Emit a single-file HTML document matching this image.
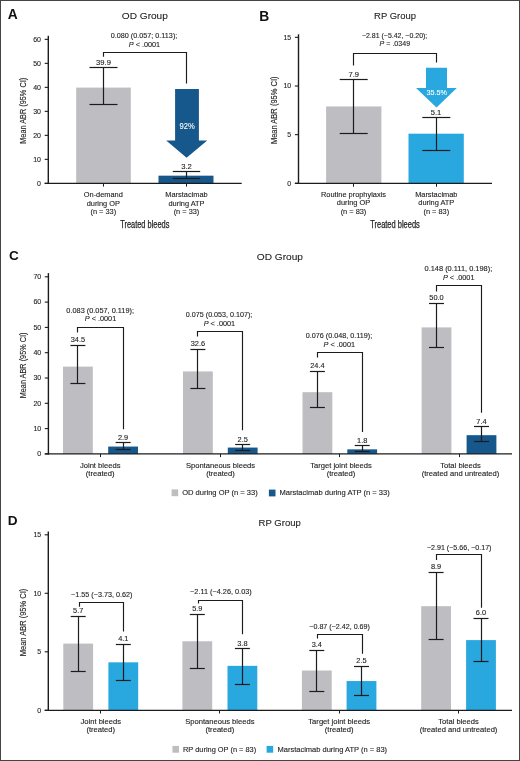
<!DOCTYPE html>
<html><head><meta charset="utf-8"><style>
html,body{margin:0;padding:0;background:#fff;}
body{width:520px;height:761px;overflow:hidden;}
svg{display:block;will-change:transform;font-family:"Liberation Sans", sans-serif;}
</style></head><body>
<svg width="520" height="761" viewBox="0 0 520 761">
<rect x="0" y="0" width="520" height="761" fill="#fff"/>
<text x="7.80" y="18.90" font-size="13.8" text-anchor="start" fill="#111" font-weight="bold" >A</text>
<text x="144.85" y="19.10" font-size="9.8" text-anchor="middle" fill="#1e1e1e" stroke="#1e1e1e" stroke-width="0.1" font-weight="normal" textLength="46" lengthAdjust="spacingAndGlyphs" >OD Group</text>
<rect x="76.20" y="87.59" width="54.60" height="95.76" fill="#bebec2"/>
<rect x="158.50" y="175.67" width="55.00" height="7.68" fill="#16578c"/>
<line x1="48.30" y1="35.80" x2="48.30" y2="184.05" stroke="#1c1c1c" stroke-width="1.4"/>
<line x1="44.70" y1="183.35" x2="241.70" y2="183.35" stroke="#1c1c1c" stroke-width="1.3"/>
<line x1="44.70" y1="183.35" x2="48.30" y2="183.35" stroke="#1c1c1c" stroke-width="1.1"/>
<text x="41.00" y="185.55" font-size="7.6" text-anchor="end" fill="#1e1e1e" stroke="#1e1e1e" stroke-width="0.12" font-weight="normal" textLength="3.9" lengthAdjust="spacingAndGlyphs" >0</text>
<line x1="44.70" y1="159.35" x2="48.30" y2="159.35" stroke="#1c1c1c" stroke-width="1.1"/>
<text x="41.00" y="161.55" font-size="7.6" text-anchor="end" fill="#1e1e1e" stroke="#1e1e1e" stroke-width="0.12" font-weight="normal" textLength="7.8" lengthAdjust="spacingAndGlyphs" >10</text>
<line x1="44.70" y1="135.35" x2="48.30" y2="135.35" stroke="#1c1c1c" stroke-width="1.1"/>
<text x="41.00" y="137.55" font-size="7.6" text-anchor="end" fill="#1e1e1e" stroke="#1e1e1e" stroke-width="0.12" font-weight="normal" textLength="7.8" lengthAdjust="spacingAndGlyphs" >20</text>
<line x1="44.70" y1="111.35" x2="48.30" y2="111.35" stroke="#1c1c1c" stroke-width="1.1"/>
<text x="41.00" y="113.55" font-size="7.6" text-anchor="end" fill="#1e1e1e" stroke="#1e1e1e" stroke-width="0.12" font-weight="normal" textLength="7.8" lengthAdjust="spacingAndGlyphs" >30</text>
<line x1="44.70" y1="87.35" x2="48.30" y2="87.35" stroke="#1c1c1c" stroke-width="1.1"/>
<text x="41.00" y="89.55" font-size="7.6" text-anchor="end" fill="#1e1e1e" stroke="#1e1e1e" stroke-width="0.12" font-weight="normal" textLength="7.8" lengthAdjust="spacingAndGlyphs" >40</text>
<line x1="44.70" y1="63.35" x2="48.30" y2="63.35" stroke="#1c1c1c" stroke-width="1.1"/>
<text x="41.00" y="65.55" font-size="7.6" text-anchor="end" fill="#1e1e1e" stroke="#1e1e1e" stroke-width="0.12" font-weight="normal" textLength="7.8" lengthAdjust="spacingAndGlyphs" >50</text>
<line x1="44.70" y1="39.35" x2="48.30" y2="39.35" stroke="#1c1c1c" stroke-width="1.1"/>
<text x="41.00" y="41.55" font-size="7.6" text-anchor="end" fill="#1e1e1e" stroke="#1e1e1e" stroke-width="0.12" font-weight="normal" textLength="7.8" lengthAdjust="spacingAndGlyphs" >60</text>
<text x="0.00" y="0.00" font-size="8.8" text-anchor="middle" fill="#1e1e1e" stroke="#1e1e1e" stroke-width="0.12" font-weight="normal" textLength="66" lengthAdjust="spacingAndGlyphs" transform="translate(26.40,110.80) rotate(-90)">Mean ABR (95% CI)</text>
<line x1="103.50" y1="67.50" x2="103.50" y2="104.50" stroke="#1c1c1c" stroke-width="1.2"/>
<line x1="89.50" y1="67.50" x2="117.50" y2="67.50" stroke="#1c1c1c" stroke-width="1.2"/>
<line x1="89.50" y1="104.50" x2="117.50" y2="104.50" stroke="#1c1c1c" stroke-width="1.2"/>
<line x1="186.50" y1="171.50" x2="186.50" y2="178.50" stroke="#1c1c1c" stroke-width="1.2"/>
<line x1="172.80" y1="171.50" x2="200.20" y2="171.50" stroke="#1c1c1c" stroke-width="1.2"/>
<line x1="172.80" y1="178.50" x2="200.20" y2="178.50" stroke="#1c1c1c" stroke-width="1.2"/>
<line x1="103.50" y1="183.35" x2="103.50" y2="186.60" stroke="#1c1c1c" stroke-width="1.0"/>
<line x1="186.50" y1="183.35" x2="186.50" y2="186.60" stroke="#1c1c1c" stroke-width="1.0"/>
<polyline points="103.50,56.80 103.50,52.50 186.50,52.50 186.50,83.60" fill="none" stroke="#1c1c1c" stroke-width="1.15"/>
<text x="144.05" y="38.00" font-size="7.4" text-anchor="middle" fill="#1e1e1e" stroke="#1e1e1e" stroke-width="0.12" font-weight="normal" textLength="66.5" lengthAdjust="spacingAndGlyphs" >0.080 (0.057; 0.113);</text>
<text x="144.45" y="46.80" font-size="7.4" text-anchor="middle" fill="#1e1e1e" stroke="#1e1e1e" stroke-width="0.12" font-weight="normal" textLength="31.3" lengthAdjust="spacingAndGlyphs" ><tspan font-style="italic">P</tspan> &lt; .0001</text>
<text x="103.50" y="65.00" font-size="7.6" text-anchor="middle" fill="#1e1e1e" stroke="#1e1e1e" stroke-width="0.12" font-weight="normal" >39.9</text>
<text x="186.50" y="169.30" font-size="7.6" text-anchor="middle" fill="#1e1e1e" stroke="#1e1e1e" stroke-width="0.12" font-weight="normal" >3.2</text>
<polygon points="175.10,88.90 198.90,88.90 198.90,140.50 207.20,140.50 186.60,157.70 166.20,140.50 175.10,140.50" fill="#16578c"/>
<text x="187.20" y="129.40" font-size="8.4" text-anchor="middle" fill="#fff" stroke="#fff" stroke-width="0.1" font-weight="normal" textLength="15.3" lengthAdjust="spacingAndGlyphs" >92%</text>
<text x="103.30" y="197.00" font-size="7.4" text-anchor="middle" fill="#1e1e1e" stroke="#1e1e1e" stroke-width="0.12" font-weight="normal" >On-demand</text>
<text x="103.30" y="205.50" font-size="7.4" text-anchor="middle" fill="#1e1e1e" stroke="#1e1e1e" stroke-width="0.12" font-weight="normal" >during OP</text>
<text x="103.30" y="214.00" font-size="7.4" text-anchor="middle" fill="#1e1e1e" stroke="#1e1e1e" stroke-width="0.12" font-weight="normal" >(n = 33)</text>
<text x="186.50" y="197.00" font-size="7.4" text-anchor="middle" fill="#1e1e1e" stroke="#1e1e1e" stroke-width="0.12" font-weight="normal" >Marstacimab</text>
<text x="186.50" y="205.50" font-size="7.4" text-anchor="middle" fill="#1e1e1e" stroke="#1e1e1e" stroke-width="0.12" font-weight="normal" >during ATP</text>
<text x="186.50" y="214.00" font-size="7.4" text-anchor="middle" fill="#1e1e1e" stroke="#1e1e1e" stroke-width="0.12" font-weight="normal" >(n = 33)</text>
<text x="144.80" y="228.10" font-size="10.0" text-anchor="middle" fill="#1e1e1e" stroke="#1e1e1e" stroke-width="0.25" font-weight="normal" textLength="49.2" lengthAdjust="spacingAndGlyphs" >Treated bleeds</text>
<text x="259.30" y="20.80" font-size="13.8" text-anchor="start" fill="#111" font-weight="bold" >B</text>
<text x="395.00" y="19.10" font-size="9.8" text-anchor="middle" fill="#1e1e1e" stroke="#1e1e1e" stroke-width="0.1" font-weight="normal" textLength="41.8" lengthAdjust="spacingAndGlyphs" >RP Group</text>
<rect x="326.10" y="106.43" width="55.30" height="76.87" fill="#bebec2"/>
<rect x="408.50" y="133.68" width="55.30" height="49.62" fill="#29a7df"/>
<line x1="298.50" y1="34.30" x2="298.50" y2="184.00" stroke="#1c1c1c" stroke-width="1.4"/>
<line x1="294.90" y1="183.30" x2="492.00" y2="183.30" stroke="#1c1c1c" stroke-width="1.3"/>
<line x1="294.90" y1="183.30" x2="298.50" y2="183.30" stroke="#1c1c1c" stroke-width="1.1"/>
<text x="291.20" y="185.50" font-size="7.6" text-anchor="end" fill="#1e1e1e" stroke="#1e1e1e" stroke-width="0.12" font-weight="normal" textLength="3.9" lengthAdjust="spacingAndGlyphs" >0</text>
<line x1="294.90" y1="134.65" x2="298.50" y2="134.65" stroke="#1c1c1c" stroke-width="1.1"/>
<text x="291.20" y="136.85" font-size="7.6" text-anchor="end" fill="#1e1e1e" stroke="#1e1e1e" stroke-width="0.12" font-weight="normal" textLength="3.9" lengthAdjust="spacingAndGlyphs" >5</text>
<line x1="294.90" y1="86.00" x2="298.50" y2="86.00" stroke="#1c1c1c" stroke-width="1.1"/>
<text x="291.20" y="88.20" font-size="7.6" text-anchor="end" fill="#1e1e1e" stroke="#1e1e1e" stroke-width="0.12" font-weight="normal" textLength="7.8" lengthAdjust="spacingAndGlyphs" >10</text>
<line x1="294.90" y1="37.35" x2="298.50" y2="37.35" stroke="#1c1c1c" stroke-width="1.1"/>
<text x="291.20" y="39.55" font-size="7.6" text-anchor="end" fill="#1e1e1e" stroke="#1e1e1e" stroke-width="0.12" font-weight="normal" textLength="7.8" lengthAdjust="spacingAndGlyphs" >15</text>
<text x="0.00" y="0.00" font-size="8.8" text-anchor="middle" fill="#1e1e1e" stroke="#1e1e1e" stroke-width="0.12" font-weight="normal" textLength="67.6" lengthAdjust="spacingAndGlyphs" transform="translate(277.10,110.30) rotate(-90)">Mean ABR (95% CI)</text>
<line x1="353.50" y1="79.50" x2="353.50" y2="133.50" stroke="#1c1c1c" stroke-width="1.2"/>
<line x1="339.70" y1="79.50" x2="367.70" y2="79.50" stroke="#1c1c1c" stroke-width="1.2"/>
<line x1="339.70" y1="133.50" x2="367.70" y2="133.50" stroke="#1c1c1c" stroke-width="1.2"/>
<line x1="436.50" y1="117.50" x2="436.50" y2="150.50" stroke="#1c1c1c" stroke-width="1.2"/>
<line x1="422.30" y1="117.50" x2="450.30" y2="117.50" stroke="#1c1c1c" stroke-width="1.2"/>
<line x1="422.30" y1="150.50" x2="450.30" y2="150.50" stroke="#1c1c1c" stroke-width="1.2"/>
<line x1="353.50" y1="183.30" x2="353.50" y2="186.80" stroke="#1c1c1c" stroke-width="1.0"/>
<line x1="436.50" y1="183.30" x2="436.50" y2="186.80" stroke="#1c1c1c" stroke-width="1.0"/>
<polyline points="353.50,65.40 353.50,53.50 436.50,53.50 436.50,62.50" fill="none" stroke="#1c1c1c" stroke-width="1.15"/>
<text x="394.60" y="37.60" font-size="7.4" text-anchor="middle" fill="#1e1e1e" stroke="#1e1e1e" stroke-width="0.12" font-weight="normal" textLength="65.4" lengthAdjust="spacingAndGlyphs" >−2.81 (−5.42, −0.20);</text>
<text x="394.85" y="46.20" font-size="7.4" text-anchor="middle" fill="#1e1e1e" stroke="#1e1e1e" stroke-width="0.12" font-weight="normal" textLength="30.5" lengthAdjust="spacingAndGlyphs" ><tspan font-style="italic">P</tspan> = .0349</text>
<text x="353.70" y="76.70" font-size="7.6" text-anchor="middle" fill="#1e1e1e" stroke="#1e1e1e" stroke-width="0.12" font-weight="normal" >7.9</text>
<text x="436.00" y="115.00" font-size="7.6" text-anchor="middle" fill="#1e1e1e" stroke="#1e1e1e" stroke-width="0.12" font-weight="normal" >5.1</text>
<polygon points="426.00,67.80 447.00,67.80 447.00,88.00 456.80,88.00 436.50,107.50 416.00,88.00 426.00,88.00" fill="#29a7df"/>
<text x="436.80" y="95.10" font-size="8.0" text-anchor="middle" fill="#fff" stroke="#fff" stroke-width="0.1" font-weight="normal" textLength="20.5" lengthAdjust="spacingAndGlyphs" >35.5%</text>
<text x="353.50" y="196.80" font-size="7.4" text-anchor="middle" fill="#1e1e1e" stroke="#1e1e1e" stroke-width="0.12" font-weight="normal" >Routine prophylaxis</text>
<text x="353.50" y="205.30" font-size="7.4" text-anchor="middle" fill="#1e1e1e" stroke="#1e1e1e" stroke-width="0.12" font-weight="normal" >during OP</text>
<text x="353.50" y="213.80" font-size="7.4" text-anchor="middle" fill="#1e1e1e" stroke="#1e1e1e" stroke-width="0.12" font-weight="normal" >(n = 83)</text>
<text x="436.30" y="196.80" font-size="7.4" text-anchor="middle" fill="#1e1e1e" stroke="#1e1e1e" stroke-width="0.12" font-weight="normal" >Marstacimab</text>
<text x="436.30" y="205.30" font-size="7.4" text-anchor="middle" fill="#1e1e1e" stroke="#1e1e1e" stroke-width="0.12" font-weight="normal" >during ATP</text>
<text x="436.30" y="213.80" font-size="7.4" text-anchor="middle" fill="#1e1e1e" stroke="#1e1e1e" stroke-width="0.12" font-weight="normal" >(n = 83)</text>
<text x="395.00" y="228.10" font-size="10.0" text-anchor="middle" fill="#1e1e1e" stroke="#1e1e1e" stroke-width="0.25" font-weight="normal" textLength="49.6" lengthAdjust="spacingAndGlyphs" >Treated bleeds</text>
<text x="8.90" y="259.90" font-size="13.6" text-anchor="start" fill="#111" font-weight="bold" >C</text>
<text x="279.90" y="259.60" font-size="9.8" text-anchor="middle" fill="#1e1e1e" stroke="#1e1e1e" stroke-width="0.1" font-weight="normal" textLength="46.2" lengthAdjust="spacingAndGlyphs" >OD Group</text>
<rect x="63.00" y="366.62" width="29.80" height="87.28" fill="#bebec2"/>
<rect x="108.20" y="446.56" width="29.80" height="7.34" fill="#16578c"/>
<rect x="183.00" y="371.42" width="29.80" height="82.48" fill="#bebec2"/>
<rect x="227.80" y="447.57" width="29.80" height="6.32" fill="#16578c"/>
<rect x="302.50" y="392.17" width="29.80" height="61.73" fill="#bebec2"/>
<rect x="347.30" y="449.35" width="29.80" height="4.55" fill="#16578c"/>
<rect x="421.60" y="327.40" width="29.80" height="126.50" fill="#bebec2"/>
<rect x="466.60" y="435.18" width="29.80" height="18.72" fill="#16578c"/>
<line x1="77.50" y1="345.50" x2="77.50" y2="383.50" stroke="#1c1c1c" stroke-width="1.2"/>
<line x1="70.40" y1="345.50" x2="85.40" y2="345.50" stroke="#1c1c1c" stroke-width="1.2"/>
<line x1="70.40" y1="383.50" x2="85.40" y2="383.50" stroke="#1c1c1c" stroke-width="1.2"/>
<line x1="123.50" y1="442.50" x2="123.50" y2="449.50" stroke="#1c1c1c" stroke-width="1.2"/>
<line x1="115.60" y1="442.50" x2="130.60" y2="442.50" stroke="#1c1c1c" stroke-width="1.2"/>
<line x1="115.60" y1="449.50" x2="130.60" y2="449.50" stroke="#1c1c1c" stroke-width="1.2"/>
<polyline points="77.50,332.60 77.50,327.50 123.50,327.50 123.50,429.30" fill="none" stroke="#1c1c1c" stroke-width="1.15"/>
<text x="100.20" y="312.50" font-size="7.4" text-anchor="middle" fill="#1e1e1e" stroke="#1e1e1e" stroke-width="0.12" font-weight="normal" textLength="67.7" lengthAdjust="spacingAndGlyphs" >0.083 (0.057, 0.119);</text>
<text x="100.50" y="321.20" font-size="7.4" text-anchor="middle" fill="#1e1e1e" stroke="#1e1e1e" stroke-width="0.12" font-weight="normal" textLength="31.5" lengthAdjust="spacingAndGlyphs" ><tspan font-style="italic">P</tspan> &lt; .0001</text>
<text x="77.90" y="342.11" font-size="7.4" text-anchor="middle" fill="#1e1e1e" stroke="#1e1e1e" stroke-width="0.12" font-weight="normal" >34.5</text>
<text x="123.10" y="439.89" font-size="7.4" text-anchor="middle" fill="#1e1e1e" stroke="#1e1e1e" stroke-width="0.12" font-weight="normal" >2.9</text>
<line x1="100.50" y1="453.90" x2="100.50" y2="457.10" stroke="#1c1c1c" stroke-width="1.0"/>
<text x="100.20" y="467.60" font-size="7.6" text-anchor="middle" fill="#1e1e1e" stroke="#1e1e1e" stroke-width="0.12" font-weight="normal" >Joint bleeds</text>
<text x="100.20" y="475.60" font-size="7.6" text-anchor="middle" fill="#1e1e1e" stroke="#1e1e1e" stroke-width="0.12" font-weight="normal" >(treated)</text>
<line x1="197.50" y1="349.50" x2="197.50" y2="388.50" stroke="#1c1c1c" stroke-width="1.2"/>
<line x1="190.40" y1="349.50" x2="205.40" y2="349.50" stroke="#1c1c1c" stroke-width="1.2"/>
<line x1="190.40" y1="388.50" x2="205.40" y2="388.50" stroke="#1c1c1c" stroke-width="1.2"/>
<line x1="242.50" y1="444.50" x2="242.50" y2="450.50" stroke="#1c1c1c" stroke-width="1.2"/>
<line x1="235.20" y1="444.50" x2="250.20" y2="444.50" stroke="#1c1c1c" stroke-width="1.2"/>
<line x1="235.20" y1="450.50" x2="250.20" y2="450.50" stroke="#1c1c1c" stroke-width="1.2"/>
<polyline points="197.50,336.50 197.50,331.50 242.50,331.50 242.50,430.30" fill="none" stroke="#1c1c1c" stroke-width="1.15"/>
<text x="219.10" y="317.10" font-size="7.4" text-anchor="middle" fill="#1e1e1e" stroke="#1e1e1e" stroke-width="0.12" font-weight="normal" textLength="66.5" lengthAdjust="spacingAndGlyphs" >0.075 (0.053, 0.107);</text>
<text x="219.40" y="325.80" font-size="7.4" text-anchor="middle" fill="#1e1e1e" stroke="#1e1e1e" stroke-width="0.12" font-weight="normal" textLength="31.5" lengthAdjust="spacingAndGlyphs" ><tspan font-style="italic">P</tspan> &lt; .0001</text>
<text x="197.90" y="346.41" font-size="7.4" text-anchor="middle" fill="#1e1e1e" stroke="#1e1e1e" stroke-width="0.12" font-weight="normal" >32.6</text>
<text x="242.70" y="441.54" font-size="7.4" text-anchor="middle" fill="#1e1e1e" stroke="#1e1e1e" stroke-width="0.12" font-weight="normal" >2.5</text>
<line x1="220.50" y1="453.90" x2="220.50" y2="457.10" stroke="#1c1c1c" stroke-width="1.0"/>
<text x="220.50" y="467.60" font-size="7.6" text-anchor="middle" fill="#1e1e1e" stroke="#1e1e1e" stroke-width="0.12" font-weight="normal" >Spontaneous bleeds</text>
<text x="220.50" y="475.60" font-size="7.6" text-anchor="middle" fill="#1e1e1e" stroke="#1e1e1e" stroke-width="0.12" font-weight="normal" >(treated)</text>
<line x1="317.50" y1="371.50" x2="317.50" y2="407.50" stroke="#1c1c1c" stroke-width="1.2"/>
<line x1="309.90" y1="371.50" x2="324.90" y2="371.50" stroke="#1c1c1c" stroke-width="1.2"/>
<line x1="309.90" y1="407.50" x2="324.90" y2="407.50" stroke="#1c1c1c" stroke-width="1.2"/>
<line x1="362.50" y1="445.50" x2="362.50" y2="451.50" stroke="#1c1c1c" stroke-width="1.2"/>
<line x1="354.70" y1="445.50" x2="369.70" y2="445.50" stroke="#1c1c1c" stroke-width="1.2"/>
<line x1="354.70" y1="451.50" x2="369.70" y2="451.50" stroke="#1c1c1c" stroke-width="1.2"/>
<polyline points="317.50,357.50 317.50,352.50 362.50,352.50 362.50,432.00" fill="none" stroke="#1c1c1c" stroke-width="1.15"/>
<text x="339.00" y="337.80" font-size="7.4" text-anchor="middle" fill="#1e1e1e" stroke="#1e1e1e" stroke-width="0.12" font-weight="normal" textLength="66.5" lengthAdjust="spacingAndGlyphs" >0.076 (0.048, 0.119);</text>
<text x="339.30" y="346.50" font-size="7.4" text-anchor="middle" fill="#1e1e1e" stroke="#1e1e1e" stroke-width="0.12" font-weight="normal" textLength="31.5" lengthAdjust="spacingAndGlyphs" ><tspan font-style="italic">P</tspan> &lt; .0001</text>
<text x="317.40" y="368.42" font-size="7.4" text-anchor="middle" fill="#1e1e1e" stroke="#1e1e1e" stroke-width="0.12" font-weight="normal" >24.4</text>
<text x="362.20" y="442.80" font-size="7.4" text-anchor="middle" fill="#1e1e1e" stroke="#1e1e1e" stroke-width="0.12" font-weight="normal" >1.8</text>
<line x1="339.50" y1="453.90" x2="339.50" y2="457.10" stroke="#1c1c1c" stroke-width="1.0"/>
<text x="341.00" y="467.60" font-size="7.6" text-anchor="middle" fill="#1e1e1e" stroke="#1e1e1e" stroke-width="0.12" font-weight="normal" >Target joint bleeds</text>
<text x="341.00" y="475.60" font-size="7.6" text-anchor="middle" fill="#1e1e1e" stroke="#1e1e1e" stroke-width="0.12" font-weight="normal" >(treated)</text>
<line x1="436.50" y1="303.50" x2="436.50" y2="347.50" stroke="#1c1c1c" stroke-width="1.2"/>
<line x1="429.00" y1="303.50" x2="444.00" y2="303.50" stroke="#1c1c1c" stroke-width="1.2"/>
<line x1="429.00" y1="347.50" x2="444.00" y2="347.50" stroke="#1c1c1c" stroke-width="1.2"/>
<line x1="481.50" y1="426.50" x2="481.50" y2="441.50" stroke="#1c1c1c" stroke-width="1.2"/>
<line x1="474.00" y1="426.50" x2="489.00" y2="426.50" stroke="#1c1c1c" stroke-width="1.2"/>
<line x1="474.00" y1="441.50" x2="489.00" y2="441.50" stroke="#1c1c1c" stroke-width="1.2"/>
<polyline points="436.50,291.40 436.50,285.50 481.50,285.50 481.50,412.80" fill="none" stroke="#1c1c1c" stroke-width="1.15"/>
<text x="458.40" y="271.20" font-size="7.4" text-anchor="middle" fill="#1e1e1e" stroke="#1e1e1e" stroke-width="0.12" font-weight="normal" textLength="67.7" lengthAdjust="spacingAndGlyphs" >0.148 (0.111, 0.198);</text>
<text x="458.70" y="279.90" font-size="7.4" text-anchor="middle" fill="#1e1e1e" stroke="#1e1e1e" stroke-width="0.12" font-weight="normal" textLength="31.5" lengthAdjust="spacingAndGlyphs" ><tspan font-style="italic">P</tspan> &lt; .0001</text>
<text x="436.50" y="300.11" font-size="7.4" text-anchor="middle" fill="#1e1e1e" stroke="#1e1e1e" stroke-width="0.12" font-weight="normal" >50.0</text>
<text x="481.50" y="423.58" font-size="7.4" text-anchor="middle" fill="#1e1e1e" stroke="#1e1e1e" stroke-width="0.12" font-weight="normal" >7.4</text>
<line x1="459.50" y1="453.90" x2="459.50" y2="457.10" stroke="#1c1c1c" stroke-width="1.0"/>
<text x="460.50" y="467.60" font-size="7.6" text-anchor="middle" fill="#1e1e1e" stroke="#1e1e1e" stroke-width="0.12" font-weight="normal" >Total bleeds</text>
<text x="460.50" y="475.60" font-size="7.6" text-anchor="middle" fill="#1e1e1e" stroke="#1e1e1e" stroke-width="0.12" font-weight="normal" >(treated and untreated)</text>
<line x1="48.40" y1="273.10" x2="48.40" y2="454.60" stroke="#1c1c1c" stroke-width="1.4"/>
<line x1="44.80" y1="453.90" x2="512.00" y2="453.90" stroke="#1c1c1c" stroke-width="1.3"/>
<line x1="44.80" y1="453.90" x2="48.40" y2="453.90" stroke="#1c1c1c" stroke-width="1.1"/>
<text x="41.20" y="456.10" font-size="7.6" text-anchor="end" fill="#1e1e1e" stroke="#1e1e1e" stroke-width="0.12" font-weight="normal" textLength="3.9" lengthAdjust="spacingAndGlyphs" >0</text>
<line x1="44.80" y1="428.60" x2="48.40" y2="428.60" stroke="#1c1c1c" stroke-width="1.1"/>
<text x="41.20" y="430.80" font-size="7.6" text-anchor="end" fill="#1e1e1e" stroke="#1e1e1e" stroke-width="0.12" font-weight="normal" textLength="7.8" lengthAdjust="spacingAndGlyphs" >10</text>
<line x1="44.80" y1="403.30" x2="48.40" y2="403.30" stroke="#1c1c1c" stroke-width="1.1"/>
<text x="41.20" y="405.50" font-size="7.6" text-anchor="end" fill="#1e1e1e" stroke="#1e1e1e" stroke-width="0.12" font-weight="normal" textLength="7.8" lengthAdjust="spacingAndGlyphs" >20</text>
<line x1="44.80" y1="378.00" x2="48.40" y2="378.00" stroke="#1c1c1c" stroke-width="1.1"/>
<text x="41.20" y="380.20" font-size="7.6" text-anchor="end" fill="#1e1e1e" stroke="#1e1e1e" stroke-width="0.12" font-weight="normal" textLength="7.8" lengthAdjust="spacingAndGlyphs" >30</text>
<line x1="44.80" y1="352.70" x2="48.40" y2="352.70" stroke="#1c1c1c" stroke-width="1.1"/>
<text x="41.20" y="354.90" font-size="7.6" text-anchor="end" fill="#1e1e1e" stroke="#1e1e1e" stroke-width="0.12" font-weight="normal" textLength="7.8" lengthAdjust="spacingAndGlyphs" >40</text>
<line x1="44.80" y1="327.40" x2="48.40" y2="327.40" stroke="#1c1c1c" stroke-width="1.1"/>
<text x="41.20" y="329.60" font-size="7.6" text-anchor="end" fill="#1e1e1e" stroke="#1e1e1e" stroke-width="0.12" font-weight="normal" textLength="7.8" lengthAdjust="spacingAndGlyphs" >50</text>
<line x1="44.80" y1="302.10" x2="48.40" y2="302.10" stroke="#1c1c1c" stroke-width="1.1"/>
<text x="41.20" y="304.30" font-size="7.6" text-anchor="end" fill="#1e1e1e" stroke="#1e1e1e" stroke-width="0.12" font-weight="normal" textLength="7.8" lengthAdjust="spacingAndGlyphs" >60</text>
<line x1="44.80" y1="276.80" x2="48.40" y2="276.80" stroke="#1c1c1c" stroke-width="1.1"/>
<text x="41.20" y="279.00" font-size="7.6" text-anchor="end" fill="#1e1e1e" stroke="#1e1e1e" stroke-width="0.12" font-weight="normal" textLength="7.8" lengthAdjust="spacingAndGlyphs" >70</text>
<text x="0.00" y="0.00" font-size="8.8" text-anchor="middle" fill="#1e1e1e" stroke="#1e1e1e" stroke-width="0.12" font-weight="normal" textLength="65.8" lengthAdjust="spacingAndGlyphs" transform="translate(26.20,365.40) rotate(-90)">Mean ABR (95% CI)</text>
<rect x="171.60" y="489.40" width="6.60" height="6.80" fill="#bebec2"/>
<text x="182.20" y="494.80" font-size="7.6" text-anchor="start" fill="#1e1e1e" stroke="#1e1e1e" stroke-width="0.12" font-weight="normal" textLength="75.5" lengthAdjust="spacingAndGlyphs" >OD during OP (n = 33)</text>
<rect x="268.90" y="489.60" width="6.60" height="6.80" fill="#16578c"/>
<text x="279.40" y="495.00" font-size="7.6" text-anchor="start" fill="#1e1e1e" stroke="#1e1e1e" stroke-width="0.12" font-weight="normal" textLength="110.4" lengthAdjust="spacingAndGlyphs" >Marstacimab during ATP (n = 33)</text>
<text x="7.70" y="525.20" font-size="13.6" text-anchor="start" fill="#111" font-weight="bold" >D</text>
<text x="279.70" y="525.60" font-size="9.8" text-anchor="middle" fill="#1e1e1e" stroke="#1e1e1e" stroke-width="0.1" font-weight="normal" textLength="42.2" lengthAdjust="spacingAndGlyphs" >RP Group</text>
<rect x="63.30" y="643.61" width="29.80" height="66.69" fill="#bebec2"/>
<rect x="108.40" y="662.33" width="29.80" height="47.97" fill="#29a7df"/>
<rect x="182.40" y="641.27" width="29.80" height="69.03" fill="#bebec2"/>
<rect x="227.50" y="665.84" width="29.80" height="44.46" fill="#29a7df"/>
<rect x="301.90" y="670.52" width="29.80" height="39.78" fill="#bebec2"/>
<rect x="346.60" y="681.05" width="29.80" height="29.25" fill="#29a7df"/>
<rect x="421.20" y="606.17" width="29.80" height="104.13" fill="#bebec2"/>
<rect x="466.10" y="640.10" width="29.80" height="70.20" fill="#29a7df"/>
<line x1="78.50" y1="616.50" x2="78.50" y2="671.50" stroke="#1c1c1c" stroke-width="1.2"/>
<line x1="70.70" y1="616.50" x2="85.70" y2="616.50" stroke="#1c1c1c" stroke-width="1.2"/>
<line x1="70.70" y1="671.50" x2="85.70" y2="671.50" stroke="#1c1c1c" stroke-width="1.2"/>
<line x1="123.50" y1="644.50" x2="123.50" y2="680.50" stroke="#1c1c1c" stroke-width="1.2"/>
<line x1="115.80" y1="644.50" x2="130.80" y2="644.50" stroke="#1c1c1c" stroke-width="1.2"/>
<line x1="115.80" y1="680.50" x2="130.80" y2="680.50" stroke="#1c1c1c" stroke-width="1.2"/>
<polyline points="79.50,606.70 79.50,602.50 123.50,602.50 123.50,631.60" fill="none" stroke="#1c1c1c" stroke-width="1.15"/>
<text x="101.80" y="596.80" font-size="7.4" text-anchor="middle" fill="#1e1e1e" stroke="#1e1e1e" stroke-width="0.12" font-weight="normal" textLength="61.4" lengthAdjust="spacingAndGlyphs" >−1.55 (−3.73, 0.62)</text>
<text x="78.20" y="613.47" font-size="7.4" text-anchor="middle" fill="#1e1e1e" stroke="#1e1e1e" stroke-width="0.12" font-weight="normal" >5.7</text>
<text x="123.30" y="641.08" font-size="7.4" text-anchor="middle" fill="#1e1e1e" stroke="#1e1e1e" stroke-width="0.12" font-weight="normal" >4.1</text>
<line x1="100.50" y1="710.30" x2="100.50" y2="713.50" stroke="#1c1c1c" stroke-width="1.0"/>
<text x="100.75" y="723.90" font-size="7.6" text-anchor="middle" fill="#1e1e1e" stroke="#1e1e1e" stroke-width="0.12" font-weight="normal" >Joint bleeds</text>
<text x="100.75" y="731.90" font-size="7.6" text-anchor="middle" fill="#1e1e1e" stroke="#1e1e1e" stroke-width="0.12" font-weight="normal" >(treated)</text>
<line x1="197.50" y1="614.50" x2="197.50" y2="668.50" stroke="#1c1c1c" stroke-width="1.2"/>
<line x1="189.80" y1="614.50" x2="204.80" y2="614.50" stroke="#1c1c1c" stroke-width="1.2"/>
<line x1="189.80" y1="668.50" x2="204.80" y2="668.50" stroke="#1c1c1c" stroke-width="1.2"/>
<line x1="242.50" y1="648.50" x2="242.50" y2="684.50" stroke="#1c1c1c" stroke-width="1.2"/>
<line x1="234.90" y1="648.50" x2="249.90" y2="648.50" stroke="#1c1c1c" stroke-width="1.2"/>
<line x1="234.90" y1="684.50" x2="249.90" y2="684.50" stroke="#1c1c1c" stroke-width="1.2"/>
<polyline points="198.50,603.60 198.50,600.50 242.50,600.50 242.50,634.30" fill="none" stroke="#1c1c1c" stroke-width="1.15"/>
<text x="220.90" y="594.00" font-size="7.4" text-anchor="middle" fill="#1e1e1e" stroke="#1e1e1e" stroke-width="0.12" font-weight="normal" textLength="61.6" lengthAdjust="spacingAndGlyphs" >−2.11 (−4.26, 0.03)</text>
<text x="197.30" y="611.13" font-size="7.4" text-anchor="middle" fill="#1e1e1e" stroke="#1e1e1e" stroke-width="0.12" font-weight="normal" >5.9</text>
<text x="242.40" y="645.52" font-size="7.4" text-anchor="middle" fill="#1e1e1e" stroke="#1e1e1e" stroke-width="0.12" font-weight="normal" >3.8</text>
<line x1="219.50" y1="710.30" x2="219.50" y2="713.50" stroke="#1c1c1c" stroke-width="1.0"/>
<text x="219.85" y="723.90" font-size="7.6" text-anchor="middle" fill="#1e1e1e" stroke="#1e1e1e" stroke-width="0.12" font-weight="normal" >Spontaneous bleeds</text>
<text x="219.85" y="731.90" font-size="7.6" text-anchor="middle" fill="#1e1e1e" stroke="#1e1e1e" stroke-width="0.12" font-weight="normal" >(treated)</text>
<line x1="316.50" y1="650.50" x2="316.50" y2="691.50" stroke="#1c1c1c" stroke-width="1.2"/>
<line x1="309.30" y1="650.50" x2="324.30" y2="650.50" stroke="#1c1c1c" stroke-width="1.2"/>
<line x1="309.30" y1="691.50" x2="324.30" y2="691.50" stroke="#1c1c1c" stroke-width="1.2"/>
<line x1="361.50" y1="666.50" x2="361.50" y2="695.50" stroke="#1c1c1c" stroke-width="1.2"/>
<line x1="354.00" y1="666.50" x2="369.00" y2="666.50" stroke="#1c1c1c" stroke-width="1.2"/>
<line x1="354.00" y1="695.50" x2="369.00" y2="695.50" stroke="#1c1c1c" stroke-width="1.2"/>
<polyline points="317.50,638.40 317.50,634.50 362.50,634.50 362.50,653.70" fill="none" stroke="#1c1c1c" stroke-width="1.15"/>
<text x="339.60" y="629.00" font-size="7.4" text-anchor="middle" fill="#1e1e1e" stroke="#1e1e1e" stroke-width="0.12" font-weight="normal" textLength="60.6" lengthAdjust="spacingAndGlyphs" >−0.87 (−2.42, 0.69)</text>
<text x="316.80" y="647.16" font-size="7.4" text-anchor="middle" fill="#1e1e1e" stroke="#1e1e1e" stroke-width="0.12" font-weight="normal" >3.4</text>
<text x="361.50" y="663.31" font-size="7.4" text-anchor="middle" fill="#1e1e1e" stroke="#1e1e1e" stroke-width="0.12" font-weight="normal" >2.5</text>
<line x1="339.50" y1="710.30" x2="339.50" y2="713.50" stroke="#1c1c1c" stroke-width="1.0"/>
<text x="339.15" y="723.90" font-size="7.6" text-anchor="middle" fill="#1e1e1e" stroke="#1e1e1e" stroke-width="0.12" font-weight="normal" >Target joint bleeds</text>
<text x="339.15" y="731.90" font-size="7.6" text-anchor="middle" fill="#1e1e1e" stroke="#1e1e1e" stroke-width="0.12" font-weight="normal" >(treated)</text>
<line x1="436.50" y1="572.50" x2="436.50" y2="639.50" stroke="#1c1c1c" stroke-width="1.2"/>
<line x1="428.60" y1="572.50" x2="443.60" y2="572.50" stroke="#1c1c1c" stroke-width="1.2"/>
<line x1="428.60" y1="639.50" x2="443.60" y2="639.50" stroke="#1c1c1c" stroke-width="1.2"/>
<line x1="481.50" y1="618.50" x2="481.50" y2="661.50" stroke="#1c1c1c" stroke-width="1.2"/>
<line x1="473.50" y1="618.50" x2="488.50" y2="618.50" stroke="#1c1c1c" stroke-width="1.2"/>
<line x1="473.50" y1="661.50" x2="488.50" y2="661.50" stroke="#1c1c1c" stroke-width="1.2"/>
<polyline points="436.50,559.90 436.50,554.50 481.50,554.50 481.50,607.80" fill="none" stroke="#1c1c1c" stroke-width="1.15"/>
<text x="459.20" y="549.60" font-size="7.4" text-anchor="middle" fill="#1e1e1e" stroke="#1e1e1e" stroke-width="0.12" font-weight="normal" textLength="64.6" lengthAdjust="spacingAndGlyphs" >−2.91 (−5.66, −0.17)</text>
<text x="436.10" y="569.36" font-size="7.4" text-anchor="middle" fill="#1e1e1e" stroke="#1e1e1e" stroke-width="0.12" font-weight="normal" >8.9</text>
<text x="481.00" y="615.45" font-size="7.4" text-anchor="middle" fill="#1e1e1e" stroke="#1e1e1e" stroke-width="0.12" font-weight="normal" >6.0</text>
<line x1="458.50" y1="710.30" x2="458.50" y2="713.50" stroke="#1c1c1c" stroke-width="1.0"/>
<text x="458.55" y="723.90" font-size="7.6" text-anchor="middle" fill="#1e1e1e" stroke="#1e1e1e" stroke-width="0.12" font-weight="normal" >Total bleeds</text>
<text x="458.55" y="731.90" font-size="7.6" text-anchor="middle" fill="#1e1e1e" stroke="#1e1e1e" stroke-width="0.12" font-weight="normal" >(treated and untreated)</text>
<line x1="48.30" y1="531.60" x2="48.30" y2="711.00" stroke="#1c1c1c" stroke-width="1.4"/>
<line x1="44.70" y1="710.30" x2="512.00" y2="710.30" stroke="#1c1c1c" stroke-width="1.3"/>
<line x1="44.70" y1="710.30" x2="48.30" y2="710.30" stroke="#1c1c1c" stroke-width="1.1"/>
<text x="41.20" y="712.50" font-size="7.6" text-anchor="end" fill="#1e1e1e" stroke="#1e1e1e" stroke-width="0.12" font-weight="normal" textLength="3.9" lengthAdjust="spacingAndGlyphs" >0</text>
<line x1="44.70" y1="651.80" x2="48.30" y2="651.80" stroke="#1c1c1c" stroke-width="1.1"/>
<text x="41.20" y="654.00" font-size="7.6" text-anchor="end" fill="#1e1e1e" stroke="#1e1e1e" stroke-width="0.12" font-weight="normal" textLength="3.9" lengthAdjust="spacingAndGlyphs" >5</text>
<line x1="44.70" y1="593.30" x2="48.30" y2="593.30" stroke="#1c1c1c" stroke-width="1.1"/>
<text x="41.20" y="595.50" font-size="7.6" text-anchor="end" fill="#1e1e1e" stroke="#1e1e1e" stroke-width="0.12" font-weight="normal" textLength="7.8" lengthAdjust="spacingAndGlyphs" >10</text>
<line x1="44.70" y1="534.80" x2="48.30" y2="534.80" stroke="#1c1c1c" stroke-width="1.1"/>
<text x="41.20" y="537.00" font-size="7.6" text-anchor="end" fill="#1e1e1e" stroke="#1e1e1e" stroke-width="0.12" font-weight="normal" textLength="7.8" lengthAdjust="spacingAndGlyphs" >15</text>
<text x="0.00" y="0.00" font-size="8.8" text-anchor="middle" fill="#1e1e1e" stroke="#1e1e1e" stroke-width="0.12" font-weight="normal" textLength="67.5" lengthAdjust="spacingAndGlyphs" transform="translate(26.30,622.50) rotate(-90)">Mean ABR (95% CI)</text>
<rect x="172.40" y="745.90" width="6.60" height="6.80" fill="#bebec2"/>
<text x="183.00" y="751.80" font-size="7.6" text-anchor="start" fill="#1e1e1e" stroke="#1e1e1e" stroke-width="0.12" font-weight="normal" textLength="73.2" lengthAdjust="spacingAndGlyphs" >RP during OP (n = 83)</text>
<rect x="266.60" y="745.90" width="6.60" height="6.80" fill="#29a7df"/>
<text x="277.50" y="751.80" font-size="7.6" text-anchor="start" fill="#1e1e1e" stroke="#1e1e1e" stroke-width="0.12" font-weight="normal" textLength="109.6" lengthAdjust="spacingAndGlyphs" >Marstacimab during ATP (n = 83)</text>
<rect x="0.5" y="0.5" width="519" height="760" fill="none" stroke="#444" stroke-width="1"/>
</svg>
</body></html>
